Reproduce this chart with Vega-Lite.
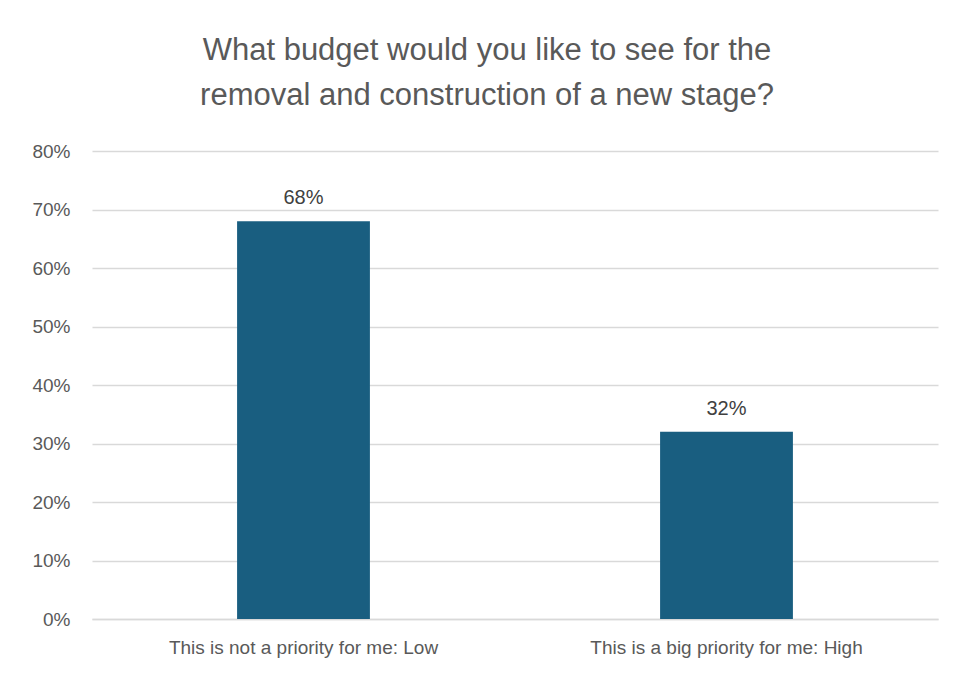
{
  "$schema": "https://vega.github.io/schema/vega-lite/v6.json",
  "width": 846,
  "height": 468,
  "autosize": {"type": "none"},
  "padding": {"left": 92, "top": 151, "right": 16, "bottom": 58},
  "background": "white",
  "title": {
    "text": ["What budget would you like to see for the", "removal and construction of a new stage?"],
    "font": "Liberation Sans",
    "fontSize": 31,
    "fontWeight": "normal",
    "color": "#595959",
    "lineHeight": 45,
    "anchor": "middle",
    "dx": -28,
    "offset": -1,
    "baseline": "bottom"
  },
  "data": {
    "values": [
      {"category": "This is not a priority for me: Low", "value": 0.68},
      {"category": "This is a big priority for me: High", "value": 0.32}
    ]
  },
  "encoding": {
    "x": {
      "field": "category",
      "type": "nominal",
      "sort": null,
      "scale": {"paddingInner": 0.686, "paddingOuter": 0.343},
      "axis": {
        "title": null,
        "labelAngle": 0,
        "labelFont": "Liberation Sans",
        "labelFontSize": 19,
        "labelColor": "#595959",
        "labelPadding": 19,
        "ticks": false,
        "domainColor": "#d9d9d9",
        "domainWidth": 1.5,
        "labelLimit": 400
      }
    },
    "y": {
      "field": "value",
      "type": "quantitative",
      "scale": {"domain": [0, 0.8]},
      "axis": {
        "title": null,
        "format": ".0%",
        "values": [0, 0.1, 0.2, 0.3, 0.4, 0.5, 0.6, 0.7, 0.8],
        "labelOverlap": false,
        "labelFont": "Liberation Sans",
        "labelFontSize": 19,
        "labelColor": "#595959",
        "labelPadding": 22,
        "ticks": false,
        "domain": false,
        "gridColor": "#d9d9d9",
        "gridWidth": 1.3
      }
    }
  },
  "layer": [
    {"mark": {"type": "bar", "color": "#195e80"}},
    {
      "mark": {
        "type": "text",
        "baseline": "bottom",
        "dy": -13,
        "font": "Liberation Sans",
        "fontSize": 20,
        "color": "#404040"
      },
      "encoding": {"text": {"field": "value", "type": "quantitative", "format": ".0%"}}
    }
  ],
  "config": {"view": {"stroke": null}}
}
